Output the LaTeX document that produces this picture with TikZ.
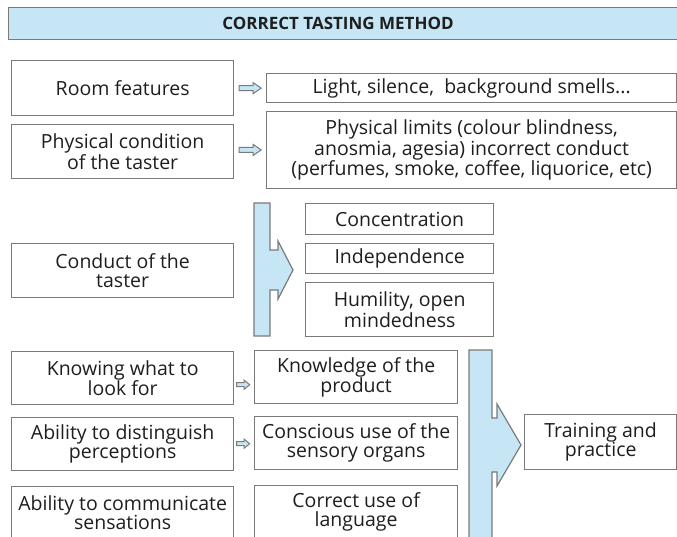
\documentclass[tikz,border=0pt]{standalone}
\usepackage{fontspec}
\setmainfont{Open Sans}
\usetikzlibrary{calc}
\definecolor{lblue}{HTML}{C6E6F6}
\definecolor{bord}{HTML}{7A7A7A}
\definecolor{txt}{HTML}{1E1E1E}
\newcommand\mybox[6]{\node[box, minimum width={(#4)-(#2)}, minimum height={(#5)-(#3)}] (#1) at (#2,#3) {#6};}
\begin{document}
\begin{tikzpicture}[x=1pt,y=-1pt,
  box/.style={draw=bord, line width=1.3pt, fill=white, anchor=north west, align=center,
    inner sep=0pt, text=txt, font=\fontsize{19.5}{19}\selectfont},
  bluebar/.style={draw=bord, line width=1.2pt, fill=lblue, line join=miter},
  sarr/.style={draw=bord, line width=1pt, fill=lblue, line join=miter},
  bigsarrow/.pic={\draw[sarr] (-11,-2.5) -- (3,-2.5) -- (3,-5.5) -- (11,0) -- (3,5.5) -- (3,2.5) -- (-11,2.5) -- cycle;},
  smallsarrow/.pic={\draw[sarr] (-6.5,-2) -- (1,-2) -- (1,-4.5) -- (6.5,0) -- (1,4.5) -- (1,2) -- (-6.5,2) -- cycle;}
]
\useasboundingbox (0,0) rectangle (677,536);
\clip (0,0) rectangle (677,536);
% title
\node[draw=bord, line width=1.3pt, fill=lblue, anchor=north west, minimum width=680, minimum height=32,
  inner sep=0pt] (title) at (8,7) {};
\node[text=txt, font=\fontsize{17}{19}\selectfont\bfseries, inner sep=0pt] (titletext) at (338,23) {CORRECT TASTING METHOD};
% top rows
\mybox{room}{11}{60}{233}{115}{Room features}
\mybox{phys}{11}{124}{233}{178}{Physical condition\\of the taster}
\mybox{light}{266}{73}{676}{102}{Light, silence,\ \ background smells...}
\mybox{limits}{266}{111}{676}{188}{Physical limits (colour blindness,\\anosmia, agesia) incorrect conduct\\(perfumes, smoke, coffee, liquorice, etc)}
\pic at ($(room.east)!0.5!(light.west)$) {bigsarrow};
\pic at ($(phys.east)!0.5!(limits.west)+(0,-1)$) {bigsarrow};
% conduct
\mybox{conduct}{11}{243}{233}{297}{Conduct of the\\taster}
\draw[bluebar] (254,203) -- (270,203) -- (270,250) -- (278,250) -- (278,241) -- (293,270)
  -- (278,299) -- (278,290) -- (270,290) -- (270,336) -- (254,336) -- cycle;
\mybox{conc}{305}{203}{493}{234}{Concentration}
\mybox{indep}{305}{243}{493}{273}{Independence}
\mybox{humil}{305}{282}{493}{336}{Humility, open\\mindedness}
% bottom section
\mybox{knowing}{11}{351}{233}{404}{Knowing what to\\look for}
\mybox{disting}{11}{417}{233}{470}{Ability to distinguish\\perceptions}
\mybox{commun}{11}{486}{233}{538}{Ability to communicate\\sensations}
\mybox{knowl}{254}{350}{457}{403}{Knowledge of the\\product}
\mybox{consc}{254}{416}{457}{469}{Conscious use of the\\sensory organs}
\mybox{correct}{254}{485}{457}{538}{Correct use of\\language}
\pic at ($(knowing.east)!0.45!(knowl.west)+(0,7)$) {smallsarrow};
\pic at ($(disting.east)!0.45!(consc.west)$) {smallsarrow};
\draw[bluebar] (469,350) -- (492,350) -- (492,418) -- (497,418) -- (497,404) -- (521,445)
  -- (497,486) -- (497,472) -- (492,472) -- (492,545) -- (469,545) -- cycle;
\mybox{train}{524}{414}{676}{469}{Training and\\practice}
\end{tikzpicture}
\end{document}
